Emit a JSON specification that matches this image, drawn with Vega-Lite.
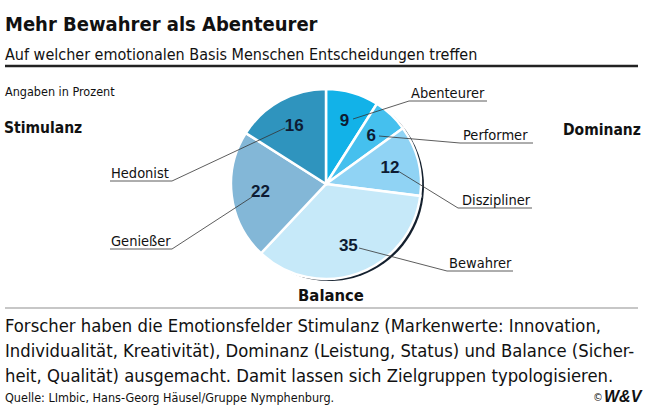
{
  "$schema": "https://vega.github.io/schema/vega-lite/v6.json",
  "width": 645,
  "height": 412,
  "autosize": {"type": "fit", "contains": "padding"},
  "padding": 0,
  "background": "white",
  "config": {"view": {"stroke": null}, "font": "Liberation Sans Narrow, DejaVu Sans Condensed, Arial Narrow, sans-serif"},
  "datasets": {
    "segments": [
      {"typ": "Abenteurer", "anteil": 9, "ord": 1},
      {"typ": "Performer", "anteil": 6, "ord": 2},
      {"typ": "Diszipliner", "anteil": 12, "ord": 3},
      {"typ": "Bewahrer", "anteil": 35, "ord": 4},
      {"typ": "Genießer", "anteil": 22, "ord": 5},
      {"typ": "Hedonist", "anteil": 16, "ord": 6}
    ],
    "texts": [
      {"kind": "title", "text": "Mehr Bewahrer als Abenteurer", "x": 5, "y": 31},
      {"kind": "sub", "text": "Auf welcher emotionalen Basis Menschen Entscheidungen treffen", "x": 5, "y": 60},
      {"kind": "note", "text": "Angaben in Prozent", "x": 5, "y": 96},
      {"kind": "group", "text": "Stimulanz", "x": 4, "y": 133},
      {"kind": "group", "text": "Dominanz", "x": 563, "y": 135},
      {"kind": "groupc", "text": "Balance", "x": 331, "y": 301},
      {"kind": "name", "text": "Abenteurer", "x": 411, "y": 98},
      {"kind": "name", "text": "Performer", "x": 463, "y": 140},
      {"kind": "name", "text": "Diszipliner", "x": 462, "y": 205},
      {"kind": "name", "text": "Bewahrer", "x": 449, "y": 268},
      {"kind": "name", "text": "Hedonist", "x": 111, "y": 178},
      {"kind": "name", "text": "Genießer", "x": 111, "y": 246},
      {"kind": "body", "text": "Forscher haben die Emotionsfelder Stimulanz (Markenwerte: Innovation,", "x": 5, "y": 332},
      {"kind": "body", "text": "Individualität, Kreativität), Dominanz (Leistung, Status) und Balance (Sicher-", "x": 5, "y": 357},
      {"kind": "body", "text": "heit, Qualität) ausgemacht. Damit lassen sich Zielgruppen typologisieren.", "x": 5, "y": 382},
      {"kind": "source", "text": "Quelle: LImbic, Hans-Georg Häusel/Gruppe Nymphenburg.", "x": 5, "y": 402},
      {"kind": "copy", "text": "©", "x": 593, "y": 401},
      {"kind": "logo", "text": "W&V", "x": 604, "y": 402}
    ],
    "rules": [
      {"kind": "thick", "x": 5, "y": 66, "x2": 638, "y2": 66},
      {"kind": "gray", "x": 5, "y": 308, "x2": 638, "y2": 308},
      {"kind": "thin", "x": 409, "y": 101, "x2": 487, "y2": 101},
      {"kind": "thin", "x": 460, "y": 143, "x2": 533, "y2": 143},
      {"kind": "thin", "x": 458, "y": 208, "x2": 532, "y2": 208},
      {"kind": "thin", "x": 447, "y": 271, "x2": 513, "y2": 271},
      {"kind": "thin", "x": 110, "y": 181, "x2": 172, "y2": 181},
      {"kind": "thin", "x": 110, "y": 249, "x2": 172, "y2": 249},
      {"kind": "thin", "x": 353, "y": 119, "x2": 409, "y2": 101},
      {"kind": "thin", "x": 379, "y": 136, "x2": 460, "y2": 143},
      {"kind": "thin", "x": 398, "y": 171, "x2": 458, "y2": 208},
      {"kind": "thin", "x": 359, "y": 248, "x2": 447, "y2": 271},
      {"kind": "thin", "x": 172, "y": 181, "x2": 285, "y2": 128},
      {"kind": "thin", "x": 172, "y": 249, "x2": 252, "y2": 197}
    ]
  },
  "layer": [
    {
      "data": {"name": "segments"},
      "mark": {"type": "arc", "outerRadius": 95, "xOffset": 3, "yOffset": 2, "color": "#14202e"},
      "encoding": {
        "theta": {"field": "anteil", "type": "quantitative", "stack": true},
        "order": {"field": "ord", "type": "quantitative"},
        "x": {"datum": 326, "type": "quantitative", "scale": {"domain": [0, 645], "nice": false, "zero": false}, "axis": null},
        "y": {"datum": 184, "type": "quantitative", "scale": {"domain": [0, 412], "nice": false, "zero": false, "reverse": true}, "axis": null}
      }
    },
    {
      "data": {"name": "segments"},
      "mark": {"type": "arc", "outerRadius": 95, "stroke": "white", "strokeWidth": 2.5},
      "encoding": {
        "theta": {"field": "anteil", "type": "quantitative", "stack": true},
        "order": {"field": "ord", "type": "quantitative"},
        "color": {"field": "typ", "type": "nominal", "legend": null,
          "scale": {"domain": ["Abenteurer", "Performer", "Diszipliner", "Bewahrer", "Genießer", "Hedonist"],
                    "range": ["#12b2e8", "#45c0ee", "#90d3f4", "#c6e9f9", "#83b7d7", "#2f94be"]}},
        "x": {"datum": 326, "type": "quantitative"},
        "y": {"datum": 184, "type": "quantitative"}
      }
    },
    {
      "data": {"name": "segments"},
      "mark": {"type": "text", "radius": 66, "fontSize": 17, "fontWeight": "bold", "color": "#0d1b33", "font": "Liberation Sans, Arial, sans-serif"},
      "encoding": {
        "theta": {"field": "anteil", "type": "quantitative", "stack": true},
        "order": {"field": "ord", "type": "quantitative"},
        "text": {"field": "anteil", "type": "quantitative"},
        "x": {"datum": 326, "type": "quantitative"},
        "y": {"datum": 184, "type": "quantitative"}
      }
    },
    {
      "data": {"name": "rules"},
      "transform": [{"filter": "datum.kind == 'thin'"}],
      "mark": {"type": "rule", "color": "#333333", "strokeWidth": 0.8},
      "encoding": {
        "x": {"field": "x", "type": "quantitative"},
        "y": {"field": "y", "type": "quantitative"},
        "x2": {"field": "x2"},
        "y2": {"field": "y2"}
      }
    },
    {
      "data": {"name": "rules"},
      "transform": [{"filter": "datum.kind == 'thick'"}],
      "mark": {"type": "rule", "color": "#222222", "strokeWidth": 2.5},
      "encoding": {
        "x": {"field": "x", "type": "quantitative"},
        "y": {"field": "y", "type": "quantitative"},
        "x2": {"field": "x2"},
        "y2": {"field": "y2"}
      }
    },
    {
      "data": {"name": "rules"},
      "transform": [{"filter": "datum.kind == 'gray'"}],
      "mark": {"type": "rule", "color": "#b4b4b4", "strokeWidth": 1.5},
      "encoding": {
        "x": {"field": "x", "type": "quantitative"},
        "y": {"field": "y", "type": "quantitative"},
        "x2": {"field": "x2"},
        "y2": {"field": "y2"}
      }
    },
    {
      "data": {"name": "texts"},
      "transform": [{"filter": "datum.kind == 'title'"}],
      "mark": {"type": "text", "align": "left", "baseline": "alphabetic", "fontSize": 20, "fontWeight": "bold", "color": "#111111"},
      "encoding": {"x": {"field": "x", "type": "quantitative"}, "y": {"field": "y", "type": "quantitative"}, "text": {"field": "text"}}
    },
    {
      "data": {"name": "texts"},
      "transform": [{"filter": "datum.kind == 'sub'"}],
      "mark": {"type": "text", "align": "left", "baseline": "alphabetic", "fontSize": 16, "color": "#111111"},
      "encoding": {"x": {"field": "x", "type": "quantitative"}, "y": {"field": "y", "type": "quantitative"}, "text": {"field": "text"}}
    },
    {
      "data": {"name": "texts"},
      "transform": [{"filter": "datum.kind == 'note'"}],
      "mark": {"type": "text", "align": "left", "baseline": "alphabetic", "fontSize": 12.5, "color": "#111111"},
      "encoding": {"x": {"field": "x", "type": "quantitative"}, "y": {"field": "y", "type": "quantitative"}, "text": {"field": "text"}}
    },
    {
      "data": {"name": "texts"},
      "transform": [{"filter": "datum.kind == 'group'"}],
      "mark": {"type": "text", "align": "left", "baseline": "alphabetic", "fontSize": 15.5, "fontWeight": "bold", "color": "#111111"},
      "encoding": {"x": {"field": "x", "type": "quantitative"}, "y": {"field": "y", "type": "quantitative"}, "text": {"field": "text"}}
    },
    {
      "data": {"name": "texts"},
      "transform": [{"filter": "datum.kind == 'groupc'"}],
      "mark": {"type": "text", "align": "center", "baseline": "alphabetic", "fontSize": 16.5, "fontWeight": "bold", "color": "#111111"},
      "encoding": {"x": {"field": "x", "type": "quantitative"}, "y": {"field": "y", "type": "quantitative"}, "text": {"field": "text"}}
    },
    {
      "data": {"name": "texts"},
      "transform": [{"filter": "datum.kind == 'name'"}],
      "mark": {"type": "text", "align": "left", "baseline": "alphabetic", "fontSize": 14.5, "color": "#111111"},
      "encoding": {"x": {"field": "x", "type": "quantitative"}, "y": {"field": "y", "type": "quantitative"}, "text": {"field": "text"}}
    },
    {
      "data": {"name": "texts"},
      "transform": [{"filter": "datum.kind == 'body'"}],
      "mark": {"type": "text", "align": "left", "baseline": "alphabetic", "fontSize": 18.3, "color": "#111111"},
      "encoding": {"x": {"field": "x", "type": "quantitative"}, "y": {"field": "y", "type": "quantitative"}, "text": {"field": "text"}}
    },
    {
      "data": {"name": "texts"},
      "transform": [{"filter": "datum.kind == 'source'"}],
      "mark": {"type": "text", "align": "left", "baseline": "alphabetic", "fontSize": 12.5, "color": "#111111"},
      "encoding": {"x": {"field": "x", "type": "quantitative"}, "y": {"field": "y", "type": "quantitative"}, "text": {"field": "text"}}
    },
    {
      "data": {"name": "texts"},
      "transform": [{"filter": "datum.kind == 'copy'"}],
      "mark": {"type": "text", "align": "left", "baseline": "alphabetic", "fontSize": 11, "color": "#111111"},
      "encoding": {"x": {"field": "x", "type": "quantitative"}, "y": {"field": "y", "type": "quantitative"}, "text": {"field": "text"}}
    },
    {
      "data": {"name": "texts"},
      "transform": [{"filter": "datum.kind == 'logo'"}],
      "mark": {"type": "text", "align": "left", "baseline": "alphabetic", "fontSize": 16, "fontWeight": "bold", "fontStyle": "italic", "color": "#111111", "font": "Liberation Sans, Arial, sans-serif"},
      "encoding": {"x": {"field": "x", "type": "quantitative"}, "y": {"field": "y", "type": "quantitative"}, "text": {"field": "text"}}
    }
  ]
}
